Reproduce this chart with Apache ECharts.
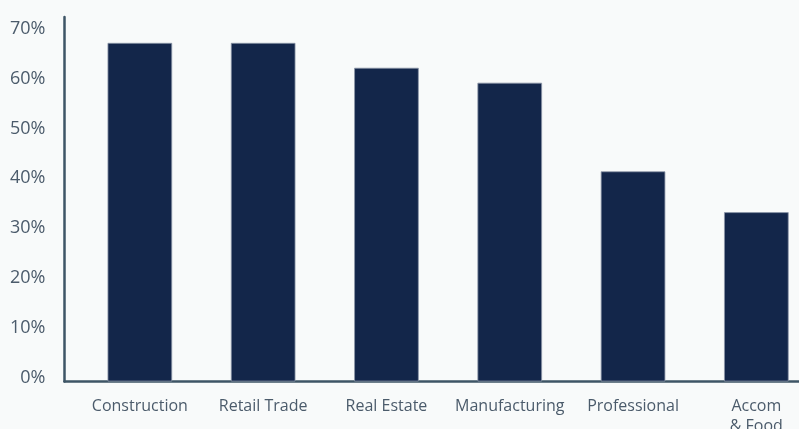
<!DOCTYPE html>
<html>
<head>
<meta charset="utf-8">
<script src="https://cdn.jsdelivr.net/npm/echarts@6/dist/echarts.min.js"></script>
<style>
html,body{margin:0;padding:0;background:#f8fafa;}
#c{width:799px;height:429px;}
</style>
</head>
<body>
<div id="c"></div>
<script>
const categories = ['Construction', 'Retail Trade', 'Real Estate', 'Manufacturing', 'Professional', 'Accom\n& Food'];
const values = [68, 68, 63, 60, 42.2, 34];
const yTicks = [0, 10, 20, 30, 40, 50, 60, 70];

const chart = echarts.init(document.getElementById('c'), null, {renderer: 'canvas'});
const axisColor = '#3e5566';
const textColor = '#4b5b6b';
const font = '"Open Sans", sans-serif';
const yMax = 73.2;

chart.setOption({
  backgroundColor: '#f8fafa',
  animation: false,
  grid: [
    {left: 64.5, right: 0, top: 17, bottom: 47.5, outerBoundsMode: 'none', containLabel: false},
    {left: 78.2, right: -19, top: 17, bottom: 47.5, outerBoundsMode: 'none', containLabel: false}
  ],
  xAxis: [
    {
      gridIndex: 0, type: 'category', data: categories,
      axisLine: {show: true, lineStyle: {color: axisColor, width: 2.5}},
      axisTick: {show: false}, axisLabel: {show: false}, splitLine: {show: false}
    },
    {
      gridIndex: 1, type: 'category', data: categories,
      axisLine: {show: false}, axisTick: {show: false},
      axisLabel: {color: textColor, fontFamily: font, fontSize: 16, margin: 15, lineHeight: 20, interval: 0}
    }
  ],
  yAxis: [
    {
      gridIndex: 0, type: 'value', min: 0, max: yMax, interval: 10,
      axisLine: {show: true, lineStyle: {color: axisColor, width: 2.5}},
      axisTick: {show: false}, splitLine: {show: false},
      axisLabel: {
        customValues: yTicks,
        color: textColor, fontFamily: font, fontSize: 18, margin: 19,
        verticalAlign: 'bottom', lineHeight: 8,
        formatter: v => v + '%'
      }
    },
    {
      gridIndex: 1, type: 'value', min: 0, max: yMax, show: false, splitLine: {show: false}
    }
  ],
  series: [{
    type: 'bar', xAxisIndex: 1, yAxisIndex: 1,
    data: values, barWidth: 64.6,
    itemStyle: {color: '#13264a', borderColor: '#8d97a8', borderWidth: 0.8}
  }]
});
</script>
</body>
</html>
